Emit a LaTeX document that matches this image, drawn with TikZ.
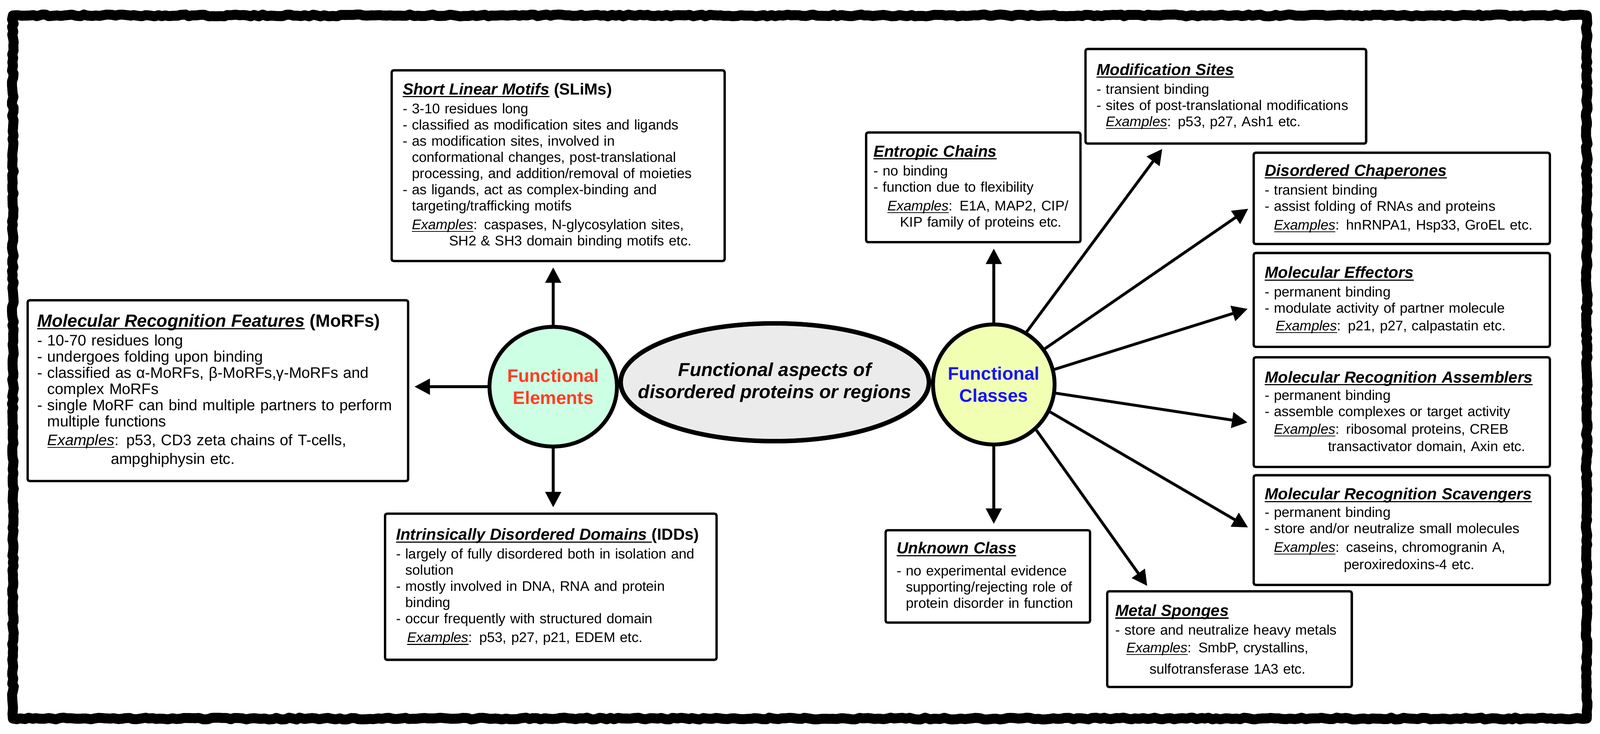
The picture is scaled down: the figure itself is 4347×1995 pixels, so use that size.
\documentclass[tikz,border=0pt]{standalone}
\usepackage{fontspec}
\setmainfont{Liberation Sans}
\usetikzlibrary{shapes.geometric}
\usetikzlibrary{arrows.meta}
\usetikzlibrary{decorations.pathmorphing}
\usetikzlibrary{positioning}

\definecolor{elemfill}{RGB}{204,255,228}
\definecolor{classfill}{RGB}{240,255,178}
\definecolor{aspectfill}{RGB}{235,235,235}
\definecolor{elemtext}{RGB}{255,62,36}
\definecolor{classtext}{RGB}{20,20,255}

\hyphenpenalty=10000
\exhyphenpenalty=10000
\newsavebox{\ulbox}
% underline of a given thickness, just below the baseline
\newcommand{\myul}[2]{\sbox{\ulbox}{#2}\rlap{\rule[-2pt]{\wd\ulbox}{#1}}\usebox{\ulbox}}
\newcommand{\boxhead}[3][12.4]{{\fontsize{#1}{12.5}\selectfont
  \myul{0.9pt}{\textbf{\textit{#2}}}\textbf{#3}}}
\newcommand{\exword}{\myul{0.6pt}{\textit{Examples}}}
\newcommand{\indnt}{\phantom{- }}

\tikzset{
  infobox/.style={draw, line width=1.8pt, rounded corners=1.5pt, fill=white,
    anchor=north west, align=left, inner xsep=0.3cm, inner ysep=0pt,
    font=\fontsize{10.8}{12.5}\selectfont},
  blob/.style={ellipse, draw, line width=3pt, inner sep=0pt},
  blobtext/.style={align=center, font=\bfseries\fontsize{14}{17}\selectfont},
  arr/.style={line width=2.2pt, -{Triangle[length=0.42cm, width=0.42cm]}, shorten >=4pt},
  roughframe/.style={line width=7.7pt, line join=round,
    decorate, decoration={random steps, segment length=3pt, amplitude=0.7pt}}
}

\begin{document}
\begin{tikzpicture}[x=0.01cm, y=-0.01cm]
  \useasboundingbox (0,0) rectangle (4347,1995);

  % --- 1. Outer frame ---
  \draw[roughframe] (35,42) rectangle (4311,1953);

  % --- 2. The three ellipses ---
  \node[blob, fill=elemfill, minimum width=3.46cm, minimum height=3.25cm,
    label={[blobtext, text=elemtext]center:Functional\\Elements}]
    (elements) at (1503,1051) {};
  \node[blob, fill=classfill, minimum width=3.30cm, minimum height=3.26cm,
    label={[blobtext, text=classtext]center:Functional\\Classes}]
    (classes) at (2700,1045) {};
  \node[blob, line width=3.5pt, fill=aspectfill, minimum width=8.37cm, minimum height=3.20cm,
    label={[blobtext, font=\bfseries\itshape\fontsize{14.5}{17}\selectfont]center:Functional aspects of\\disordered proteins or regions}]
    (aspects) at (2105,1039) {};

  % --- 3. Functional elements ---
  \node[infobox, text width=8.44cm, minimum height=5.18cm] (slims) at (1061,188) {%
    \boxhead{Short Linear Motifs}{ (SLiMs)}\\[2pt]
    - 3-10 residues long\\
    - classified as modification sites and ligands\\
    - as modification sites, involved in\\
    \indnt conformational changes, post-translational\\
    \indnt processing, and addition/removal of moieties\\
    - as ligands, act as complex-binding and\\
    \indnt targeting/trafficking motifs\\[2pt]
    \indnt\exword: caspases, N-glycosylation sites,\\
    \hspace*{1.26cm}SH2 \& SH3 domain binding motifs etc.};

  \node[infobox, inner xsep=0.26cm, text width=9.81cm, minimum height=4.91cm,
    font=\fontsize{11.8}{12.5}\selectfont] (morfs) at (72,813) {%
    \boxhead[13.6]{Molecular Recognition Features}{ (MoRFs)}\\[2pt]
    - 10-70 residues long\\
    - undergoes folding upon binding\\
    - classified as α-MoRFs, β-MoRFs,γ-MoRFs and\\
    \indnt complex MoRFs\\
    - single MoRF can bind multiple partners to perform\\
    \indnt multiple functions\\[2pt]
    \indnt\exword: p53, CD3 zeta chains of T-cells,\\[2pt]
    \hspace*{2.0cm}ampghiphysin etc.};

  \node[infobox, text width=8.40cm, minimum height=3.97cm] (idd) at (1043,1393) {%
    \boxhead{Intrinsically Disordered Domains\ }{(IDDs)}\\[2pt]
    - largely of fully disordered both in isolation and\\
    \indnt solution\\
    - mostly involved in DNA, RNA and protein\\
    \indnt binding\\
    - occur frequently with structured domain\\[2pt]
    \hspace*{0.3cm}\exword: p53, p27, p21, EDEM etc.};

  % --- 4. Functional classes ---
  \node[infobox, inner xsep=0.2cm, text width=5.42cm, minimum height=2.98cm] (entropic) at (2350,357) {%
    \boxhead{Entropic Chains}{}\\[2pt]
    - no binding\\
    - function due to flexibility\\[2pt]
    \hspace*{0.38cm}\exword: E1A, MAP2, CIP/\\
    \hspace*{0.72cm}KIP family of proteins etc.};

  \node[infobox, text width=7.02cm, minimum height=2.57cm] (modsites) at (2946,130) {%
    \boxhead{Modification Sites}{}\\[2pt]
    - transient binding\\
    - sites of post-translational modifications\\
    \indnt\exword: p53, p27, Ash1 etc.};

  \node[infobox, text width=7.44cm, minimum height=2.48cm] (chaperones) at (3403,412) {%
    \boxhead{Disordered Chaperones}{}\\[2pt]
    - transient binding\\
    - assist folding of RNAs and proteins\\[2pt]
    \indnt\exword: hnRNPA1, Hsp33, GroEL etc.};

  \node[infobox, text width=7.44cm, minimum height=2.55cm, below=0.18cm of chaperones] (effectors) {%
    \boxhead{Molecular Effectors}{}\\[2pt]
    - permanent binding\\
    - modulate activity of partner molecule\\[1pt]
    \hspace*{0.3cm}\exword: p21, p27, calpastatin etc.};

  \node[infobox, text width=7.44cm, minimum height=2.98cm, below=0.22cm of effectors] (assemblers) {%
    \boxhead{Molecular Recognition Assemblers}{}\\[1pt]
    - permanent binding\\
    - assemble complexes or target activity\\[1pt]
    \indnt\exword: ribosomal proteins, CREB\\[1pt]
    \hspace*{1.72cm}transactivator domain, Axin etc.};

  \node[infobox, text width=7.44cm, minimum height=2.98cm, below=0.16cm of assemblers] (scavengers) {%
    \boxhead{Molecular Recognition Scavengers}{}\\[1pt]
    - permanent binding\\
    - store and/or neutralize small molecules\\[2pt]
    \indnt\exword: caseins, chromogranin A,\\[1pt]
    \hspace*{2.15cm}peroxiredoxins-4 etc.};

  \node[infobox, text width=4.95cm, minimum height=2.51cm] (unknown) at (2403,1438) {%
    \boxhead{Unknown Class}{}\\[4.5pt]
    - no experimental evidence\\
    \indnt supporting/rejecting role of\\
    \indnt protein disorder in function};

  \node[infobox, inner xsep=0.22cm, text width=6.2cm, minimum height=2.60cm] (metal) at (3005,1604) {%
    \boxhead{Metal Sponges}{}\\[2pt]
    - store and neutralize heavy metals\\[1pt]
    \hspace*{0.3cm}\exword: SmbP, crystallins,\\[4pt]
    \hspace*{0.93cm}sulfotransferase 1A3 etc.};

  % --- 5. Arrows ---
  \draw[arr] (elements.north) -- (elements.north |- slims.south);
  \draw[arr] (elements.west) -- (elements.west -| morfs.east);
  \draw[arr] (elements.south) -- (elements.south |- idd.north);

  \draw[arr] (classes.north) -- (classes.north |- entropic.south);
  \draw[arr] (classes.58) -- ([xshift=2.2cm]modsites.south west);
  \draw[arr] (classes.35) -- ([yshift=-0.2cm]chaperones.west);
  \draw[arr] (classes.14) -- ([yshift=-0.2cm]effectors.west);
  \draw[arr] (classes.-8) -- ([yshift=-0.3cm]assemblers.west);
  \draw[arr] (classes.-26) -- (scavengers.west);
  \draw[arr] (classes.-47) -- ([xshift=1.2cm]metal.north west);
  \draw[arr] (classes.south) -- (classes.south |- unknown.north);
\end{tikzpicture}
\end{document}
